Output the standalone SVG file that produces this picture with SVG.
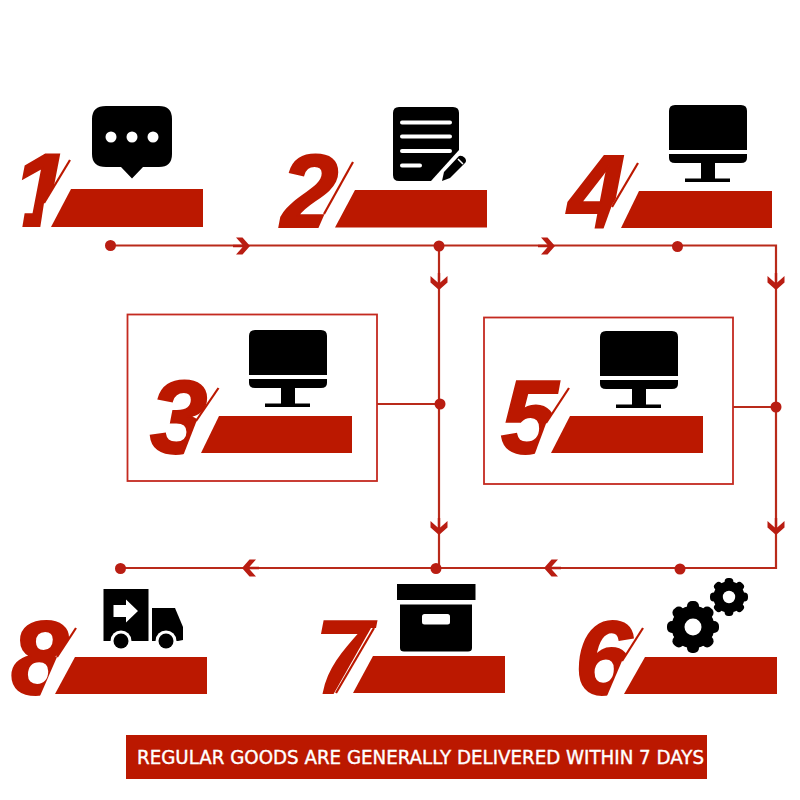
<svg xmlns="http://www.w3.org/2000/svg" xmlns:xlink="http://www.w3.org/1999/xlink" width="800" height="800" viewBox="0 0 800 800">
<style>
.bar{fill:#bb1800}
.num{fill:#bb1800;stroke:#bb1800;stroke-width:2;font-family:"Liberation Sans",Arial,sans-serif;font-weight:bold;font-style:italic;font-size:103px}
.slash{stroke:#bb1800;stroke-width:2.200;fill:none}
.cut{fill:#fff}
.box{fill:#fff;stroke:#c42a20;stroke-width:1.800}
.wire{fill:none;stroke:#b92a1a;stroke-width:2.200}
.dot{fill:#b91d12}
.chev{fill:#b91d12}
.ink{fill:#000}
.w{fill:#fff}
.banner-text{fill:#fff;stroke:#fff;stroke-width:.4;font-family:"DejaVu Sans",sans-serif;font-size:19px}
</style>
<defs>
<g id="monitor">
<path class="ink" d="M0,45V6Q0,0 6,0H72Q78,0 78,6V45Z"/>
<path class="ink" d="M0,49H78V53Q78,58 72,58H6Q0,58 0,53Z"/>
<rect class="ink" x="32" y="58" width="14" height="16"/>
<rect class="ink" x="16" y="73.500" width="45" height="3.500"/>
</g>
<polygon id="chev" class="chev" points="-13,-8.500 -6.500,-8.500 1,0 -6.500,8.500 -13,8.500 -6.500,1.200 -16,1.200 -16,-1.200 -6.500,-1.200"/>
<g id="gear">
<circle class="ink" r="21.500"/>
<g class="ink">
<rect x="-6" y="-26" width="12" height="52" rx="5"/>
<rect x="-6" y="-26" width="12" height="52" rx="5" transform="rotate(45)"/>
<rect x="-6" y="-26" width="12" height="52" rx="5" transform="rotate(90)"/>
<rect x="-6" y="-26" width="12" height="52" rx="5" transform="rotate(135)"/>
</g>
<circle class="w" r="8.500"/>
</g>
</defs>
<rect width="800" height="800" fill="#fff"/>

<g id="connectors">
<path class="wire" d="M110,245.500H776V568H120"/>
<path class="wire" d="M439,246V568"/>
<path class="wire" d="M377,404H439"/>
<path class="wire" d="M733,407H776"/>
<circle class="dot" cx="110.500" cy="245.500" r="5.500"/>
<circle class="dot" cx="439" cy="246" r="5.500"/>
<circle class="dot" cx="677.500" cy="246.500" r="5.500"/>
<circle class="dot" cx="440" cy="404" r="5.500"/>
<circle class="dot" cx="776" cy="407" r="5.500"/>
<circle class="dot" cx="680" cy="569" r="5.500"/>
<circle class="dot" cx="436" cy="568.500" r="5.500"/>
<circle class="dot" cx="120.500" cy="568.500" r="5.500"/>
<use xlink:href="#chev" href="#chev" transform="translate(249,246)"/>
<use xlink:href="#chev" href="#chev" transform="translate(554,246)"/>
<use xlink:href="#chev" href="#chev" transform="translate(439,289) rotate(90)"/>
<use xlink:href="#chev" href="#chev" transform="translate(776,289) rotate(90)"/>
<use xlink:href="#chev" href="#chev" transform="translate(439,534) rotate(90)"/>
<use xlink:href="#chev" href="#chev" transform="translate(776,534) rotate(90)"/>
<use xlink:href="#chev" href="#chev" transform="translate(545,568) rotate(180)"/>
<use xlink:href="#chev" href="#chev" transform="translate(243,568) rotate(180)"/>
</g>

<g id="node-1">
<path class="ink" d="M106,106H159Q172,106 172,119V154Q172,167 159,167H143L132,178.500L121,167H106Q92,167 92,154V119Q92,106 106,106Z"/>
<circle class="w" cx="111" cy="137" r="5.500"/><circle class="w" cx="132" cy="137" r="5.500"/><circle class="w" cx="153" cy="137" r="5.500"/>
<text class="num" x="12" y="226">1</text>
<polygon class="cut" points="8,205 26,205 22,229 8,229"/>
<polygon class="cut" points="71,160 80,160 53,229 40,229 44,203"/>
<path class="slash" d="M70,160L44,203"/>
<polygon class="bar" points="71,189 203,189 203,227 51,227"/>
</g>

<g id="node-2">
<path class="ink" d="M399,107H453Q459,107 459,113V150L431,181H399Q393,181 393,175V113Q393,107 399,107Z"/>
<g stroke="#fff" stroke-width="4" stroke-linecap="round"><path d="M402,122.500H450M402,136.500H450M402,151H450M402,165.500H420"/></g>
<path class="ink" d="M442,181L444,172L459,156Q462,155 465,158Q467,161 465,163L450,178Z"/>
<path d="M458,159L463,164" stroke="#fff" stroke-width="1.500"/>
<text class="num" x="281" y="226.500">2</text>
<polygon class="cut" points="354,162 362,162 338,229 318,229 325,213"/>
<path class="slash" d="M353,162L324,214"/>
<polygon class="bar" points="355,190 487,190 487,227.500 335,227.500"/>
</g>

<g id="node-4">
<use xlink:href="#monitor" href="#monitor" transform="translate(669,105)"/>
<text class="num" x="568" y="228">4</text>
<polygon class="cut" points="639,163 647,163 623,230 603,230 612,205"/>
<path class="slash" d="M638,163L612,207"/>
<polygon class="bar" points="639,191 772,191 772,228 621,228"/>
</g>

<g id="node-3">
<rect class="box" x="127.500" y="314.500" width="249.500" height="166.500"/>
<use xlink:href="#monitor" href="#monitor" transform="translate(249,330)"/>
<text class="num" x="150" y="453">3</text>
<polygon class="cut" points="219,388 227,388 203,456 183,456 197,420"/>
<path class="slash" d="M218.500,388L196,421"/>
<polygon class="bar" points="219,416 352,416 352,453 201,453"/>
</g>

<g id="node-5">
<rect class="box" x="484" y="317.500" width="249" height="166.500"/>
<use xlink:href="#monitor" href="#monitor" transform="translate(600,331)"/>
<text class="num" x="501" y="453">5</text>
<polygon class="cut" points="570,388 578,388 554,456 534,456 547,421"/>
<path class="slash" d="M569,388L546,423"/>
<polygon class="bar" points="570,416 703,416 703,453 551,453"/>
</g>

<g id="node-6">
<use xlink:href="#gear" href="#gear" transform="translate(693,627)"/>
<use xlink:href="#gear" href="#gear" transform="translate(729,597) scale(.73)"/>
<text class="num" x="575" y="693.500">6</text>
<polygon class="cut" points="643,628 651,628 627,696 607,696 622,661"/>
<path class="slash" d="M643,628L622,661"/>
<polygon class="bar" points="645,657 777,657 777,694 624,694"/>
</g>

<g id="node-7">
<rect class="ink" x="397" y="584" width="78.500" height="16"/>
<path class="ink" d="M400,604.500H472V648Q472,651.500 468,651.500H404Q400,651.500 400,648Z"/>
<rect class="w" x="422" y="614" width="28" height="10.500" rx="2.500"/>
<text class="num" x="315" y="692.500">7</text>
<polygon class="cut" points="371,628 380,628 358,695 333,695"/>
<path class="slash" d="M374,628L336,693"/>
<polygon class="bar" points="373,656 505,656 505,693 353,693"/>
</g>

<g id="node-8">
<rect class="ink" x="103.500" y="589" width="45" height="52"/>
<path class="ink" d="M152,608H175L183,627V640L178,641H152Z"/>
<circle class="w" cx="121" cy="641" r="10.500"/><circle class="w" cx="166" cy="641" r="10.500"/>
<circle class="ink" cx="121" cy="641" r="7.500"/><circle class="ink" cx="166" cy="641" r="7.500"/>
<polygon class="w" points="113.500,605 126,605 126,599.500 138,611 126,622.500 126,617 113.500,617"/>
<text class="num" x="11" y="693.500">8</text>
<polygon class="cut" points="76,628 84,628 60,696 40,696 57,657"/>
<path class="slash" d="M76,628L57,657"/>
<polygon class="bar" points="75,657 207,657 207,694 55,694"/>
</g>

<g id="banner">
<rect class="bar" x="126" y="735" width="581" height="44"/>
<text class="banner-text" x="137" y="764" textLength="567" lengthAdjust="spacingAndGlyphs">REGULAR GOODS ARE GENERALLY DELIVERED WITHIN 7 DAYS</text>
</g>
</svg>
